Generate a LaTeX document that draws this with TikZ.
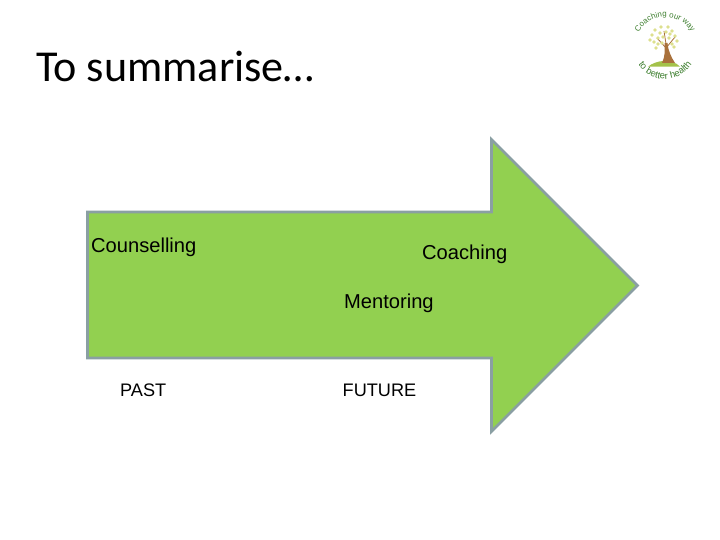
\documentclass[tikz,border=0pt]{standalone}
\usepackage{fontspec}
\setmainfont{Liberation Sans}
\newfontfamily\titlefont{Carlito}
\usetikzlibrary{decorations.text}
\definecolor{arrowfill}{HTML}{92D050}
\definecolor{arrowline}{HTML}{8A9FA3}
\definecolor{logogreen}{HTML}{3F8030}
\definecolor{trunk}{HTML}{A9713C}
\definecolor{leafy}{HTML}{DDE08E}
\definecolor{mound}{HTML}{A4C24A}
\tikzset{
  lab/.style={font=\fontsize{20.2}{24}\selectfont, text=black, inner sep=0pt, anchor=base west},
  lab2/.style={font=\fontsize{18.2}{22}\selectfont, text=black, inner sep=0pt, anchor=base west},
  leaf/.style={fill=leafy, draw=none}
}
\begin{document}
\begin{tikzpicture}[x=1bp,y=-1bp]
\useasboundingbox (0,0) rectangle (720,540);
\fill[white] (0,0) rectangle (720,540);
\node[font=\titlefont\fontsize{44.3}{52}\selectfont, inner sep=0pt, anchor=base west] (title) at (36,82) {To summarise…};
\draw[fill=arrowfill, draw=arrowline, line width=2.6bp, line join=miter]
  (87.5,212) -- (491.5,212) -- (491.5,139.5) -- (637.5,285.5) -- (491.5,431.5) -- (491.5,358) -- (87.5,358) -- cycle;
\node[lab] (counselling) at (91,253) {Counselling};
\node[lab] (coaching) at (422,260) {Coaching};
\node[lab] (mentoring) at (344,308) {Mentoring};
\node[lab2] (past) at (120,396) {PAST};
\node[lab2] (future) at (342.5,396) {FUTURE};
% logo
\fill[mound] (648,66.7) .. controls (656,60) and (672,58) .. (680,66.7) -- cycle;
\fill[trunk] (662,63) .. controls (665,57) and (665,50) .. (664.5,43) -- (667.5,43) .. controls (668,50) and (671,57) .. (675,63) -- cycle;
\draw[trunk, line width=0.8bp] (666,48) -- (657,38) (666,48) -- (675,37) (666,44) -- (664,31);
\foreach \px/\py in {652/35,655/30,658/38,660/33,663/37,666/32,669/38,672/31,675/36,677/41,654/42,658/44,672/44,668/27,661/27,650/40,674/47,656/48,662/43,670/34}
  \fill[leaf] (\px,\py) circle (1.9bp);
\path[postaction={decorate}, decoration={text along path, text align=center, text={|\fontsize{8}{10}\selectfont\color{logogreen}|Coaching our way}}]
  (636.8,36.7) arc[start angle=160, end angle=20, radius=30bp];
\path[postaction={decorate}, decoration={text along path, text align=center, text={|\fontsize{9.5}{11}\selectfont\color{logogreen}|to better health}}]
  (634.9,57.9) arc[start angle=200, end angle=340, radius=32bp];
\end{tikzpicture}
\end{document}
